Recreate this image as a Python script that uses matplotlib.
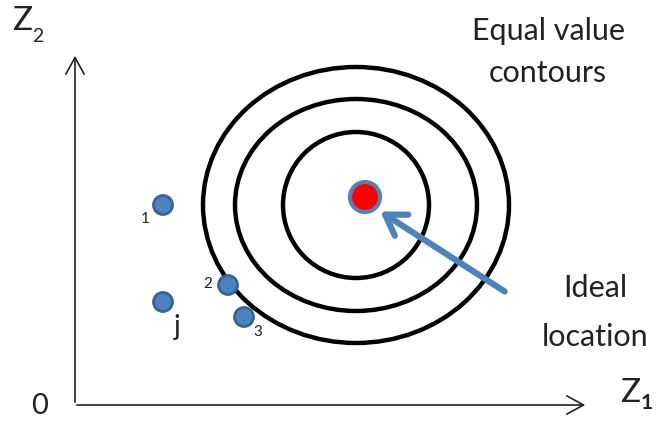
import matplotlib
matplotlib.use("Agg")
from matplotlib import pyplot as plt
from matplotlib.patches import Ellipse, Circle, FancyArrowPatch

plt.rcParams['font.family'] = ['Lato', 'DejaVu Sans']

# picture is laid out in pixel units (y grows downwards)
center = (356, 205)
contour_rx = [73, 121, 153]
contour_ry = [73, 106, 138]

ideal = (365, 197)

point_x = [163, 163, 228, 244]
point_y = [205, 302, 285, 317]
point_labels = ['1', 'j', '2', '3']
label_x = [145, 177, 208, 258]
label_y = [219, 327, 284, 332]
label_size = [11, 20, 11, 11]

blue = '#4F81BD'
edge = '#3A6296'
ink = '#222222'

fig = plt.figure(figsize=(6.58, 4.23), dpi=100)
ax = fig.add_axes([0, 0, 1, 1])
ax.set_xlim(0, 658)
ax.set_ylim(423, 0)
ax.axis('off')

# axes with open arrow heads
for start, end in [((75, 405), (75, 53)), ((74, 405), (588, 405))]:
    ax.add_patch(FancyArrowPatch(start, end, arrowstyle='->,head_length=0.6,head_width=0.33',
                                 mutation_scale=20, lw=1.2, color=ink))

# equal value contours
for rx, ry in zip(contour_rx, contour_ry):
    ax.add_patch(Ellipse(center, 2 * rx, 2 * ry, fill=False, lw=3.2, ec='black'))

# alternatives
for x, y in zip(point_x, point_y):
    ax.add_patch(Circle((x, y), 9.5, fc=blue, ec=edge, lw=2, zorder=3))
for t, x, y, s in zip(point_labels, label_x, label_y, label_size):
    ax.text(x, y, t, fontsize=s, ha='center', va='center', color=ink)

# ideal location
ax.add_patch(Circle(ideal, 15, fc='red', ec='#5B7FB0', lw=3, zorder=4))
ax.add_patch(FancyArrowPatch((507, 293), (378, 210),
                             arrowstyle='->,head_length=0.7,head_width=0.45',
                             mutation_scale=20, lw=4.5, color=blue, zorder=5))

# texts
ax.text(548, 31, 'Equal value', fontsize=22, ha='center', va='center', color=ink)
ax.text(548, 73, 'contours', fontsize=22, ha='center', va='center', color=ink)
ax.text(595, 288, 'Ideal', fontsize=22, ha='center', va='center', color=ink)
ax.text(595, 337, 'location', fontsize=22, ha='center', va='center', color=ink)
ax.text(40, 406, '0', fontsize=21, ha='center', va='center', color=ink)

ax.text(22, 21, 'Z', fontsize=24, ha='center', va='center', color=ink)
ax.text(38, 36, '2', fontsize=14, ha='center', va='center', color=ink)
ax.text(630, 393, 'Z', fontsize=24, ha='center', va='center', color=ink)
ax.text(647, 403, '1', fontsize=15, ha='center', va='center', color=ink, weight='bold')

fig.savefig('out.png', dpi=100)
